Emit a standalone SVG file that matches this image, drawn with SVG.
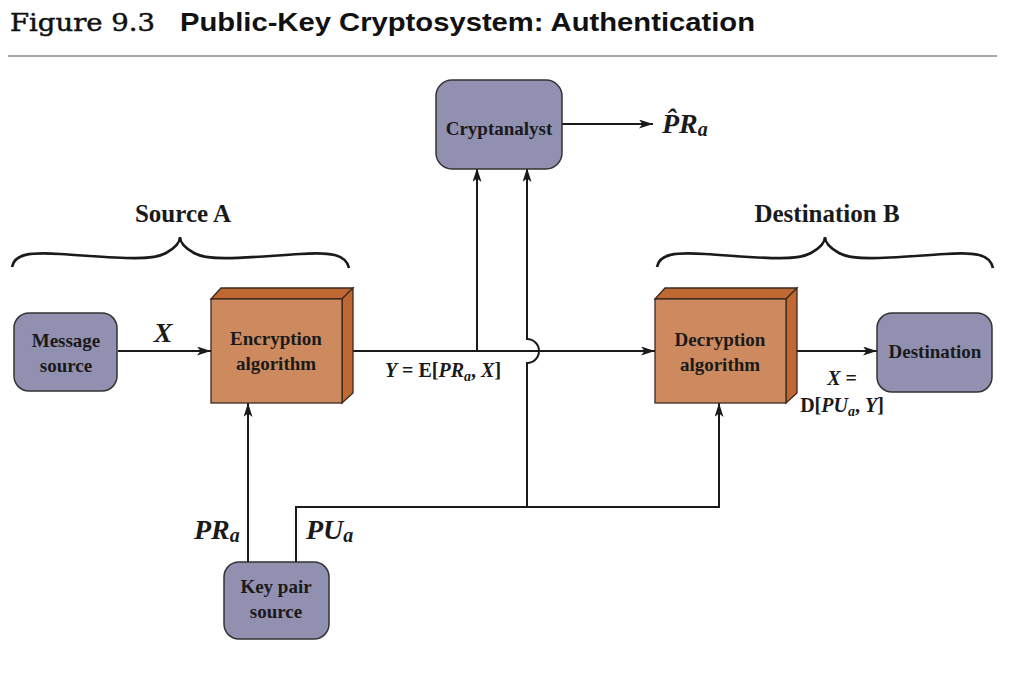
<svg xmlns="http://www.w3.org/2000/svg" width="1031" height="688" viewBox="0 0 1031 688">
<style>
.node{fill:#9190b0;stroke:#333;stroke-width:1.5}
.front{fill:#cd8a5f;stroke:#3a2a20;stroke-width:1.3}
.side{fill:#bf6832;stroke:#3a2a20;stroke-width:1.3}
.lbl{font-family:"Liberation Serif",serif;font-weight:bold;font-size:19px;fill:#1a1a1a;text-anchor:middle}
.math{font-family:"Liberation Serif",serif;font-weight:bold;font-size:20px;fill:#1a1a1a}
.bigm{font-family:"Liberation Serif",serif;font-weight:bold;font-style:italic;font-size:28px;fill:#1a1a1a}
.hdr{font-family:"Liberation Serif",serif;font-weight:bold;font-size:25px;fill:#1a1a1a;text-anchor:middle}
.conn path{fill:none;stroke:#1a1a1a;stroke-width:2}
.brace{fill:none;stroke:#1a1a1a;stroke-width:2.6}
</style>
<defs>
<marker id="arr" markerUnits="userSpaceOnUse" markerWidth="16" markerHeight="10" refX="14" refY="4.5" orient="auto">
<path d="M0,0 L14,4.5 L0,9 L3.5,4.5 z" fill="#1a1a1a"/>
</marker>
</defs>
<rect width="1031" height="688" fill="#fff"/>
<g id="title">
<text x="10" y="31" font-family="DejaVu Serif,serif" font-size="25" fill="#111" stroke="#111" stroke-width="0.5" textLength="145" lengthAdjust="spacingAndGlyphs">Figure 9.3</text>
<text x="180" y="31" font-family="Liberation Sans,Arial,sans-serif" font-weight="bold" font-size="26" fill="#111" textLength="575" lengthAdjust="spacingAndGlyphs">Public-Key Cryptosystem: Authentication</text>
<line x1="8" y1="56" x2="997" y2="56" stroke="#8a8a8a" stroke-width="1.5"/>
</g>
<g id="connectors" class="conn">
<path d="M118,351 H211" marker-end="url(#arr)"/>
<path d="M353,351 H655" marker-end="url(#arr)"/>
<path d="M477,351 V168" marker-end="url(#arr)"/>
<path d="M527,507 V363 A12,12 0 0 0 527,339 V168" marker-end="url(#arr)"/>
<path d="M296,562 V507 H719 V403" marker-end="url(#arr)"/>
<path d="M248,562 V403" marker-end="url(#arr)"/>
<path d="M562,124 H653" marker-end="url(#arr)"/>
<path d="M797,351 H877" marker-end="url(#arr)"/>
</g>
<g id="source-a">
<path class="brace" d="M12,267 C14,254 30,252 60,254 C110,257 150,262 166,253 C175,248 180,243 180,237 C180,243 185,248 194,253 C210,262 250,257 300,254 C330,252 346,254 349,268"/>
<text class="hdr" x="183" y="222">Source A</text>
</g>
<g id="destination-b">
<path class="brace" d="M657,267 C659,254 675,252 705,254 C755,257 795,262 811,253 C820,248 825,243 825,237 C825,243 830,248 839,253 C855,262 895,257 945,254 C975,252 990,254 993,268"/>
<text class="hdr" x="827" y="222">Destination B</text>
</g>
<g id="message-source">
<rect class="node" x="14" y="313" width="103" height="78" rx="15"/>
<text class="lbl" x="66" y="347">Message</text>
<text class="lbl" x="66" y="372">source</text>
</g>
<g id="encryption">
<path class="side" d="M211,299 L221,288 L353,288 L342,299 z"/>
<path class="side" d="M342,299 L353,288 L353,393 L342,403 z"/>
<rect class="front" x="211" y="299" width="131" height="104"/>
<text class="lbl" x="276" y="345">Encryption</text>
<text class="lbl" x="276" y="370">algorithm</text>
</g>
<g id="decryption">
<path class="side" d="M655,299 L665,288 L797,288 L786,299 z"/>
<path class="side" d="M786,299 L797,288 L797,393 L786,403 z"/>
<rect class="front" x="655" y="299" width="131" height="104"/>
<text class="lbl" x="720" y="346">Decryption</text>
<text class="lbl" x="720" y="371">algorithm</text>
</g>
<g id="destination">
<rect class="node" x="877" y="313" width="115" height="79" rx="15"/>
<text class="lbl" x="935" y="358">Destination</text>
</g>
<g id="cryptanalyst">
<rect class="node" x="436" y="80" width="126" height="89" rx="16"/>
<text class="lbl" x="499" y="135">Cryptanalyst</text>
</g>
<g id="key-pair-source">
<rect class="node" x="224" y="562" width="105" height="77" rx="15"/>
<text class="lbl" x="276" y="593">Key pair</text>
<text class="lbl" x="276" y="618">source</text>
</g>
<g id="labels">
<text class="bigm" x="163" y="342" text-anchor="middle" font-size="24">X</text>
<text class="math" x="443" y="377" text-anchor="middle"><tspan font-style="italic">Y</tspan> = E[<tspan font-style="italic">PR</tspan><tspan font-style="italic" font-size="14" dy="4">a</tspan><tspan dy="-4">, </tspan><tspan font-style="italic">X</tspan>]</text>
<text class="math" x="842" y="385" text-anchor="middle"><tspan font-style="italic">X</tspan> =</text>
<text class="math" x="842" y="412" text-anchor="middle">D[<tspan font-style="italic">PU</tspan><tspan font-style="italic" font-size="14" dy="4">a</tspan><tspan dy="-4">, </tspan><tspan font-style="italic">Y</tspan>]</text>
<text class="bigm" x="194" y="539">PR<tspan font-size="20" dy="3">a</tspan></text>
<text class="bigm" x="306" y="539">PU<tspan font-size="20" dy="3">a</tspan></text>
<text class="bigm" x="662" y="133">P̂R<tspan font-size="20" dy="3">a</tspan></text>
</g>
</svg>
